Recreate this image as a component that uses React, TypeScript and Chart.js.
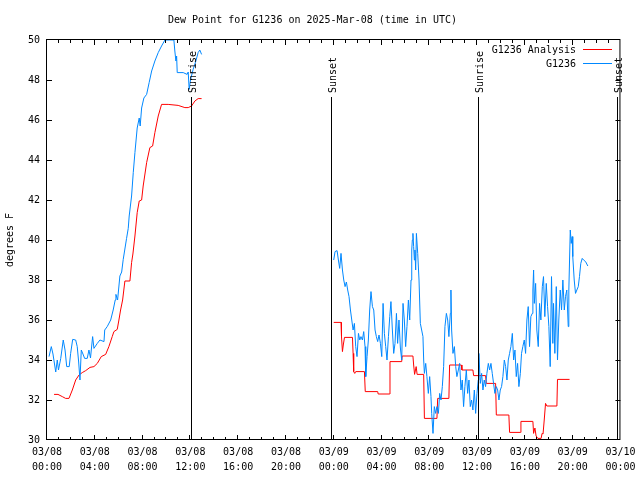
import React, { useEffect, useRef } from 'react';
import { Chart, registerables } from 'chart.js';

Chart.register(...registerables);

const TITLE = 'Dew Point for G1236 on 2025-Mar-08 (time in UTC)';
const Y_TITLE = 'degrees F';
const SERIES_NAMES = ['G1236 Analysis', 'G1236'];
const SERIES_COLORS = ['#ff0000', 'rgb(0,136,255)'];
const X_TICK_DATES = ['03/08', '03/08', '03/08', '03/08', '03/08', '03/08', '03/09', '03/09', '03/09', '03/09', '03/09', '03/09', '03/10'];
const X_TICK_TIMES = ['00:00', '04:00', '08:00', '12:00', '16:00', '20:00', '00:00', '04:00', '08:00', '12:00', '16:00', '20:00', '00:00'];
const Y_TICKS = [30, 32, 34, 36, 38, 40, 42, 44, 46, 48, 50];
// hours since 03/08 00:00 UTC
const SUN_TIMES = [12.04, 23.75, 36.04, 47.67];
const SUN_LABELS = ['Sunrise', 'Sunset', 'Sunrise', 'Sunset'];
const FONT = '"DejaVu Sans Mono", "Liberation Mono", monospace';

// [hours since 03/08 00:00 UTC, deg F]; null = gap
const G1236_OBS: [number, number | null][] = [
  [0.17, 34.17], [0.36, 34.67], [0.5, 34.3], [0.73, 33.4], [0.86, 34.0], [0.96, 33.5], [1.15, 34.08], [1.36, 35.0],
  [1.51, 34.5], [1.65, 33.67], [1.86, 33.67], [1.98, 34.33], [2.15, 35.03], [2.4, 35.0], [2.53, 34.67], [2.65, 33.9],
  [2.76, 33.0], [2.87, 34.5], [3.01, 34.3], [3.15, 34.08], [3.37, 34.08], [3.51, 34.5], [3.64, 34.1], [3.82, 35.17],
  [3.93, 34.58], [4.21, 34.83], [4.43, 35.0], [4.77, 34.92], [4.83, 35.5], [5.04, 35.67], [5.33, 36.0], [5.54, 36.5],
  [5.71, 37.0], [5.77, 37.28], [5.91, 37.0], [6.1, 38.2], [6.25, 38.4], [6.38, 39.03], [6.66, 40.08], [6.8, 40.58],
  [6.88, 41.2], [7.08, 42.2], [7.22, 43.37], [7.36, 44.37], [7.55, 45.6], [7.65, 45.9], [7.72, 46.1], [7.8, 45.7],
  [7.92, 46.6], [8.11, 47.1], [8.34, 47.28], [8.55, 47.87], [8.76, 48.45], [9.03, 48.95], [9.31, 49.37], [9.59, 49.7],
  [9.87, 50.0], [10.28, 50.0], [10.62, 50.0], [10.7, 49.45], [10.79, 48.95], [10.85, 49.2], [10.9, 48.37], [11.4, 48.37],
  [11.73, 48.28], [11.82, 48.4], [11.9, 47.53], [12.02, 48.03], [12.23, 48.53], [12.46, 48.95], [12.65, 49.37], [12.79, 49.5],
  [12.94, 49.28],
  [18.0, null],
  [24.0, 39.0], [24.11, 39.42], [24.28, 39.47], [24.39, 39.0], [24.5, 38.58], [24.61, 39.33], [24.73, 38.5], [24.84, 38.0],
  [24.95, 37.67], [25.06, 37.9], [25.17, 37.5], [25.28, 37.17], [25.4, 36.5], [25.51, 36.0], [25.62, 35.5], [25.73, 35.83],
  [25.84, 34.67], [25.95, 34.17], [26.07, 35.33], [26.18, 35.0], [26.28, 35.17], [26.4, 35.0], [26.51, 35.42], [26.62, 34.67],
  [26.68, 33.17], [26.79, 34.17], [26.9, 35.0], [27.01, 36.5], [27.12, 37.42], [27.24, 36.67], [27.35, 36.5], [27.46, 35.5],
  [27.57, 35.17], [27.68, 34.92], [27.79, 35.25], [27.91, 34.83], [28.02, 34.17], [28.13, 36.83], [28.24, 35.33], [28.35, 34.67],
  [28.46, 34.0], [28.58, 35.17], [28.69, 36.17], [28.79, 36.92], [28.91, 35.5], [29.02, 34.33], [29.13, 34.83], [29.25, 36.33],
  [29.35, 34.83], [29.46, 36.0], [29.58, 34.6], [29.69, 34.0], [29.8, 36.83], [29.91, 36.0], [30.02, 34.67], [30.13, 35.67],
  [30.25, 37.0], [30.36, 36.0], [30.47, 38.0], [30.53, 39.5], [30.58, 40.0], [30.63, 40.33], [30.69, 39.67], [30.75, 39.0],
  [30.8, 39.5], [30.86, 38.5], [30.92, 40.33], [31.03, 39.33], [31.14, 38.0], [31.25, 35.83], [31.36, 35.5], [31.47, 35.17],
  [31.53, 34.0], [31.59, 33.33], [31.7, 33.83], [31.8, 33.17], [31.92, 32.33], [32.03, 33.17], [32.14, 32.17], [32.2, 31.33],
  [32.31, 30.33], [32.42, 31.67], [32.53, 31.33], [32.64, 31.67], [32.76, 31.33], [32.87, 32.33], [32.98, 32.0], [33.09, 32.67],
  [33.2, 33.67], [33.31, 35.67], [33.43, 36.33], [33.54, 36.0], [33.64, 35.17], [33.76, 36.33], [33.81, 37.5], [33.87, 35.5],
  [33.98, 34.33], [34.1, 34.67], [34.21, 33.67], [34.31, 33.17], [34.43, 33.5], [34.54, 33.83], [34.65, 32.5], [34.76, 33.0],
  [34.87, 31.67], [34.98, 32.67], [35.1, 33.5], [35.21, 32.33], [35.32, 33.0], [35.43, 31.67], [35.54, 32.0], [35.65, 31.5],
  [35.77, 32.5], [35.88, 31.33], [35.99, 32.33], [36.1, 33.0], [36.15, 34.33], [36.27, 32.83], [36.38, 33.33], [36.49, 32.5],
  [36.6, 33.0], [36.71, 32.67], [36.82, 33.33], [36.94, 33.83], [37.05, 33.5], [37.16, 33.83], [37.27, 33.33], [37.38, 32.83],
  [37.49, 32.33], [37.61, 32.67], [37.72, 32.5], [37.83, 32.0], [37.94, 32.5], [38.05, 32.67], [38.16, 33.17], [38.28, 34.0],
  [38.39, 33.67], [38.5, 33.0], [38.61, 34.0], [38.72, 34.33], [38.83, 34.67], [38.95, 35.33], [39.06, 34.0], [39.17, 34.5],
  [39.28, 33.17], [39.39, 33.83], [39.5, 32.67], [39.62, 33.33], [39.72, 34.33], [39.83, 34.67], [39.95, 35.0], [40.06, 34.33],
  [40.17, 36.0], [40.28, 36.67], [40.39, 34.67], [40.5, 36.17], [40.62, 36.33], [40.67, 37.5], [40.73, 38.5], [40.79, 36.83],
  [40.9, 37.83], [41.0, 35.5], [41.12, 34.67], [41.23, 36.83], [41.34, 36.0], [41.46, 37.67], [41.56, 38.17], [41.67, 36.17],
  [41.79, 37.83], [41.9, 36.67], [42.01, 35.67], [42.12, 33.67], [42.23, 38.17], [42.34, 34.83], [42.4, 36.83], [42.51, 34.33],
  [42.63, 37.67], [42.73, 34.0], [42.84, 36.0], [42.96, 37.5], [43.07, 36.5], [43.18, 38.0], [43.3, 36.5], [43.4, 37.17],
  [43.51, 37.5], [43.63, 35.67], [43.68, 37.5], [43.74, 39.0], [43.8, 40.5], [43.88, 39.83], [43.96, 40.17], [44.01, 39.17],
  [44.13, 38.0], [44.24, 37.33], [44.35, 37.5], [44.47, 37.67], [44.57, 38.17], [44.68, 38.83], [44.8, 39.08], [44.91, 39.0],
  [45.08, 38.92], [45.27, 38.7],
];

const G1236_ANALYSIS: [number, number | null][] = [
  [0.59, 32.28], [0.92, 32.28], [1.28, 32.17], [1.56, 32.08], [1.84, 32.08], [2.12, 32.5], [2.4, 33.0], [2.68, 33.25],
  [2.95, 33.37], [3.24, 33.47], [3.6, 33.63], [3.93, 33.67], [4.21, 33.83], [4.54, 34.17], [4.91, 34.28], [5.18, 34.67],
  [5.46, 35.17], [5.6, 35.42], [5.88, 35.53], [6.02, 36.0], [6.16, 36.5], [6.33, 37.0], [6.52, 37.95], [6.94, 37.95],
  [7.08, 38.87], [7.19, 39.3], [7.36, 40.2], [7.55, 41.37], [7.72, 41.95], [7.92, 42.0], [8.05, 42.7], [8.34, 43.87],
  [8.61, 44.62], [8.84, 44.7], [9.03, 45.37], [9.31, 46.2], [9.59, 46.78], [10.14, 46.78], [10.98, 46.73], [11.54, 46.62],
  [11.82, 46.62], [12.1, 46.7], [12.38, 46.95], [12.65, 47.07], [12.94, 47.07],
  [18.0, null],
  [24.0, 35.88], [24.61, 35.88], [24.65, 35.17], [24.73, 34.42], [24.8, 34.75], [24.9, 35.13], [25.57, 35.13], [25.62, 34.33],
  [25.67, 33.42], [25.76, 33.33], [25.84, 33.42], [26.57, 33.42], [26.64, 32.42], [27.68, 32.42], [27.72, 32.3], [28.66, 32.3],
  [28.71, 33.92], [29.69, 33.92], [29.73, 34.2], [30.63, 34.2], [30.69, 33.75], [30.77, 33.28], [30.9, 33.67], [30.98, 33.28],
  [31.53, 33.28], [31.59, 31.08], [32.64, 31.08], [32.7, 32.08], [33.64, 32.08], [33.7, 33.75], [34.68, 33.75], [34.73, 33.5],
  [35.65, 33.5], [35.71, 33.22], [36.71, 33.22], [36.77, 32.83], [37.55, 32.83], [37.61, 31.25], [38.66, 31.25], [38.72, 30.38],
  [39.62, 30.38], [39.67, 30.93], [40.67, 30.93], [40.73, 30.33], [40.84, 30.6], [40.94, 30.2], [41.09, 30.08], [41.36, 30.08],
  [41.44, 30.33], [41.52, 30.3], [41.62, 31.0], [41.73, 31.83], [41.84, 31.7], [42.68, 31.7], [42.73, 33.03], [43.74, 33.03],
];

const framePlugin = {
  id: 'gnuframe',
  afterDatasetsDraw(chart: any) {
    const { ctx, chartArea: a, scales } = chart;
    const xs = scales.x;
    const ys = scales.y;
    ctx.save();
    ctx.strokeStyle = '#000';
    ctx.fillStyle = '#000';
    ctx.lineWidth = 1;
    ctx.font = '10px ' + FONT;
    // sunrise / sunset markers
    SUN_TIMES.forEach((t, i) => {
      const px = Math.round(xs.getPixelForValue(t)) + 0.5;
      ctx.beginPath();
      ctx.moveTo(px, a.top + 57);
      ctx.lineTo(px, a.bottom);
      ctx.stroke();
      ctx.save();
      ctx.translate(px + 4.5, a.top + 53);
      ctx.rotate(-Math.PI / 2);
      ctx.textAlign = 'left';
      ctx.textBaseline = 'alphabetic';
      ctx.fillText(SUN_LABELS[i], 0, 0);
      ctx.restore();
    });
    // frame
    ctx.strokeRect(a.left - 0.5, a.top - 0.5, a.right - a.left, a.bottom - a.top);
    // inward ticks
    ctx.beginPath();
    for (let h = 1; h < 48; h++) {
      const px = Math.round(xs.getPixelForValue(h)) - 0.5;
      const len = h % 4 === 0 ? 5 : 3;
      ctx.moveTo(px, a.bottom);
      ctx.lineTo(px, a.bottom - len);
      ctx.moveTo(px, a.top);
      ctx.lineTo(px, a.top + len);
    }
    Y_TICKS.slice(1, -1).forEach((v) => {
      const py = Math.round(ys.getPixelForValue(v)) + 0.5;
      ctx.moveTo(a.left, py);
      ctx.lineTo(a.left + 5, py);
      ctx.moveTo(a.right, py);
      ctx.lineTo(a.right - 5, py);
    });
    ctx.stroke();
    // legend
    ctx.textAlign = 'right';
    ctx.textBaseline = 'middle';
    SERIES_NAMES.forEach((name, i) => {
      const ty = 50 + i * 14;
      ctx.fillStyle = '#000';
      ctx.fillText(name, 576, ty);
      ctx.strokeStyle = SERIES_COLORS[i];
      ctx.beginPath();
      ctx.moveTo(583, ty - 0.5);
      ctx.lineTo(612, ty - 0.5);
      ctx.stroke();
    });
    ctx.restore();
  },
};

export default function App() {
  const ref = useRef<HTMLCanvasElement>(null);
  useEffect(() => {
    const canvas = ref.current;
    if (!canvas) return;
    const toPts = (arr: [number, number | null][]) => arr.map(([x, y]) => ({ x, y }));
    const chart = new Chart(canvas, {
      type: 'line',
      data: {
        datasets: [
          {
            label: SERIES_NAMES[1],
            data: toPts(G1236_OBS) as any,
            borderColor: SERIES_COLORS[1],
            borderWidth: 1,
            pointRadius: 0,
            tension: 0,
            spanGaps: false,
            order: 0,
          },
          {
            label: SERIES_NAMES[0],
            data: toPts(G1236_ANALYSIS) as any,
            borderColor: SERIES_COLORS[0],
            borderWidth: 1,
            pointRadius: 0,
            tension: 0,
            spanGaps: false,
            order: 1,
          },
        ],
      },
      options: {
        animation: false,
        responsive: false,
        devicePixelRatio: 1,
        layout: { padding: { left: 0, right: 15, top: 0, bottom: 0 } },
        plugins: {
          legend: { display: false },
          tooltip: { enabled: false },
          title: {
            display: true,
            text: TITLE,
            color: '#000',
            font: { family: FONT, size: 10, weight: 'normal', lineHeight: 1.2 },
            padding: { top: 14, bottom: 14 },
          },
        },
        scales: {
          x: {
            type: 'linear',
            min: 0,
            max: 48,
            grid: { display: false, drawTicks: false, tickLength: 0 },
            border: { display: false },
            ticks: {
              stepSize: 4,
              autoSkip: false,
              maxRotation: 0,
              minRotation: 0,
              padding: 4.5,
              color: '#000',
              font: { family: FONT, size: 10, lineHeight: 1.5 },
              callback: (v: any) => {
                const i = Math.round(Number(v) / 4);
                return [X_TICK_DATES[i], X_TICK_TIMES[i]];
              },
            },
            afterFit: (s: any) => {
              s.height = 40;
            },
          },
          y: {
            type: 'linear',
            min: 30,
            max: 50,
            grid: { display: false, drawTicks: false, tickLength: 0 },
            border: { display: false },
            ticks: {
              stepSize: 2,
              padding: 7,
              color: '#000',
              font: { family: FONT, size: 10 },
            },
            title: {
              display: true,
              text: Y_TITLE,
              color: '#000',
              font: { family: FONT, size: 10 },
              padding: { top: 4, bottom: 0 },
            },
            afterFit: (s: any) => {
              s.width = 47;
            },
          },
        },
      } as any,
      plugins: [framePlugin],
    });
    return () => chart.destroy();
  }, []);
  return (
    <div style={{ position: 'fixed', left: 0, top: 0, width: 640, height: 480, background: '#fff' }}>
      <canvas ref={ref} width={640} height={480} style={{ display: 'block' }} />
    </div>
  );
}
